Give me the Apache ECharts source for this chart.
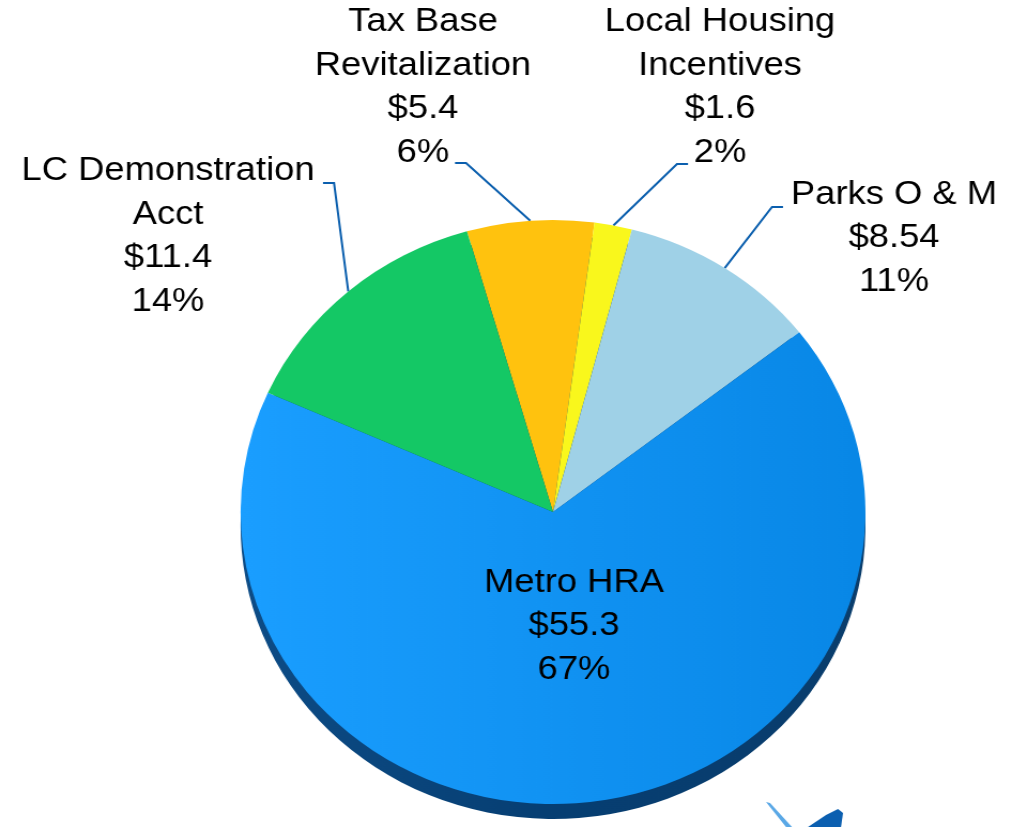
<!DOCTYPE html>
<html><head><meta charset="utf-8">
<script src="https://cdn.jsdelivr.net/npm/echarts@6/dist/echarts.min.js"></script>
<style>
html,body{margin:0;padding:0;background:#fff;overflow:hidden;width:1012px;height:827px}
#c{width:946px;height:827px;transform:scaleX(1.06977);transform-origin:0 0}
</style>
</head><body><div id="c"></div>
<script>
// ---- data ----
const categories = ['Tax Base\nRevitalization', 'Local Housing\nIncentives', 'Parks O & M', 'Metro HRA', 'LC Demonstration\nAcct'];
const values = [5.4, 1.6, 8.54, 55.3, 11.4];
const valueLabels = ['$5.4', '$1.6', '$8.54', '$55.3', '$11.4'];
const percentLabels = ['6%', '2%', '11%', '67%', '14%'];

// ---- styling / layout ----
const SX = 1012 / 946;                 // horizontal stretch of the original picture
const CENTER = [553 / SX, 512];
const RADIUS = 292;
const START = 106;
const colors = [
  '#FFC20E', '#F9F71C', '#9FD1E7',
  {type:'linear', x:0, y:0, x2:1, y2:0, colorStops:[{offset:0,color:'#1A9EFF'},{offset:1,color:'#0887E6'}]},
  '#14C865'
];
// label block centres (page px)
const labelPos = [[423, 87], [720, 87], [894, 238], [574, 626], [168, 236]];
// leader line elbow + end (page px)
const guides = [[[466,163],[455,163]], [[677,164],[688,164]], [[772,207],[783,207]], null, [[334,183],[323,183]]];

const total = values.reduce((a, b) => a + b, 0);
function edgePoint(i) {
  let cum = 0;
  for (let k = 0; k < i; k++) cum += values[k];
  const mid = START - (cum + values[i] / 2) / total * 360;
  const r = mid * Math.PI / 180;
  return [CENTER[0] + RADIUS * Math.cos(r), CENTER[1] - RADIUS * Math.sin(r)];
}

const data = categories.map((name, i) => ({
  name, value: values[i],
  itemStyle: { color: colors[i] },
  label: i === 3 ? { position: 'inside' } : { position: 'outside' },
  labelLine: { show: i !== 3 }
}));

const chart = echarts.init(document.getElementById('c'), null, {renderer: 'canvas'});
chart.setOption({
  backgroundColor: '#ffffff',
  animation: false,
  graphic: [
    { type: 'polygon', silent: true, z: 0,
      shape: { points: [[766/SX, 802], [770/SX, 803], [792/SX, 827], [786/SX, 827]] },
      style: { fill: '#5AA8E6' } },
    { type: 'polygon', silent: true, z: 0,
      shape: { points: [[808/SX, 827], [826/SX, 815], [838/SX, 809], [843/SX, 813], [841/SX, 827]] },
      style: { fill: '#0B5FB0' } }
  ],
  series: [
    { // dark rim of the 3D disc
      type: 'pie', silent: true, z: 1,
      center: [CENTER[0], CENTER[1] + 15], radius: RADIUS,
      startAngle: START, label: {show: false}, labelLine: {show: false},
      itemStyle: { borderWidth: 0 },
      data: [{value: 1, itemStyle: {color: {type:'linear', x:0, y:0, x2:1, y2:0, colorStops:[{offset:0,color:'#0D4C86'},{offset:0.5,color:'#063E72'},{offset:1,color:'#0A3D6C'}]}}}]
    },
    {
      type: 'pie', z: 2,
      center: CENTER, radius: RADIUS,
      startAngle: START, clockwise: true,
      avoidLabelOverlap: false,
      itemStyle: { borderWidth: 0, borderColor: 'transparent' },
      data,
      label: {
        show: true,
        formatter: p => p.name + '\n' + valueLabels[p.dataIndex] + '\n' + percentLabels[p.dataIndex],
        fontFamily: 'Liberation Sans, Arial, sans-serif',
        fontSize: 34, lineHeight: 43.5, color: '#000', align: 'center'
      },
      labelLine: { show: true, lineStyle: { color: '#0B5FAE', width: 2 } },
      labelLayout: function (params) {
        const i = params.dataIndex;
        const out = { x: labelPos[i][0] / SX, y: labelPos[i][1], align: 'center', verticalAlign: 'middle' };
        const g = guides[i];
        if (g) {
          const p0 = edgePoint(i);
          out.labelLinePoints = [p0, [g[0][0] / SX, g[0][1]], [g[1][0] / SX, g[1][1]]];
        }
        return out;
      }
    }
  ]
});
</script>
</body></html>
